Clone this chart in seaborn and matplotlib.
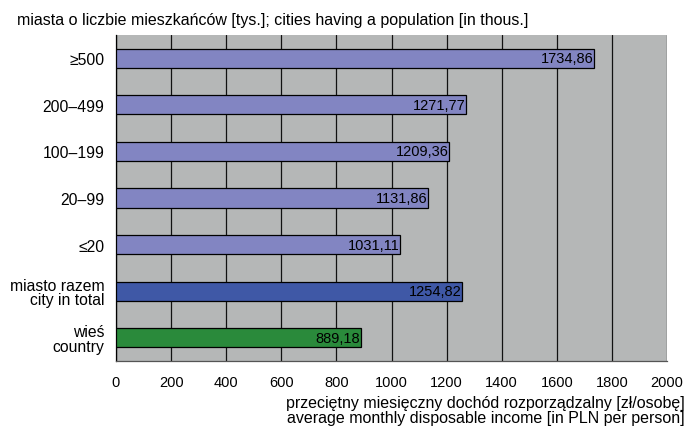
import matplotlib
matplotlib.use('Agg')
import matplotlib.pyplot as plt
import seaborn as sns
import pandas as pd
import numpy as np

# dane
categories = ['≥500', '200–499', '100–199', '20–99', '≤20',
              'miasto razem\ncity in total', 'wieś\ncountry']
values = [1734.86, 1271.77, 1209.36, 1131.86, 1031.11, 1254.82, 889.18]
bar_colors = ['#8285c2', '#8285c2', '#8285c2', '#8285c2', '#8285c2',
              '#3f58a6', '#2a8a3b']
x_ticks = [0, 200, 400, 600, 800, 1000, 1200, 1400, 1600, 1800, 2000]

df = pd.DataFrame({'kategoria': categories, 'dochod': values})

sns.set_style('white')
plt.rcParams['font.family'] = ['Liberation Sans', 'DejaVu Sans']
plt.rcParams['text.color'] = 'black'
plt.rcParams['xtick.color'] = 'black'
plt.rcParams['ytick.color'] = 'black'

fig = plt.figure(figsize=(6.87, 4.27), dpi=100)
ax = fig.add_axes([116 / 687, 1 - 362 / 427, 551 / 687, 326 / 427])
ax.set_facecolor('#b5b7b7')

sns.barplot(data=df, x='dochod', y='kategoria', hue='kategoria',
            palette=bar_colors, saturation=1, legend=False, width=0.41,
            edgecolor='black', linewidth=0.9, ax=ax, zorder=3)

# etykiety wartości
for i, v in enumerate(values):
    ax.text(v - 2, i, f'{v:.2f}'.replace('.', ','), ha='right', va='center',
            fontsize=10.5, color='black', zorder=4)

ax.set_xlim(0, 2000)
ax.set_ylim(len(categories) - 0.5, -0.5)
ax.set_xticks(x_ticks)
ax.set_xticklabels([str(t) for t in x_ticks], fontsize=10.5)
ax.xaxis.grid(True, color='#111111', linewidth=0.9, zorder=0)
ax.set_axisbelow(True)

# etykiety osi y wycentrowane, kreski na granicach
ax.set_yticks(range(len(categories)))
ax.set_yticklabels(categories, fontsize=11.3, linespacing=0.95,
                   multialignment='right')
ax.set_yticks(np.arange(-0.5, len(categories), 1), minor=True)
ax.tick_params(axis='y', which='major', length=0, pad=8.5)
ax.tick_params(axis='y', which='minor', length=4, width=0.9, color='black',
               direction='out')
ax.tick_params(axis='x', length=3, width=0.9, color='#555555',
               labelcolor='black', direction='out', pad=7)
ax.set_xlabel('')
ax.set_ylabel('')

for s in ['top', 'right']:
    ax.spines[s].set_visible(False)
ax.spines['left'].set_color('black')
ax.spines['left'].set_linewidth(0.9)
ax.spines['bottom'].set_color('#555555')
ax.spines['bottom'].set_linewidth(0.9)

fig.text(17 / 687, 0.953,
         'miasta o liczbie mieszkańców [tys.]; cities having a population [in thous.]',
         fontsize=11.5, ha='left', va='center')
fig.text(0.997, 0.003,
         'przeciętny miesięczny dochód rozporządzalny [zł/osobę]\n'
         'average monthly disposable income [in PLN per person]',
         fontsize=11.5, ha='right', va='bottom', multialignment='right',
         linespacing=1.0)

fig.savefig('out.png', dpi=100)
